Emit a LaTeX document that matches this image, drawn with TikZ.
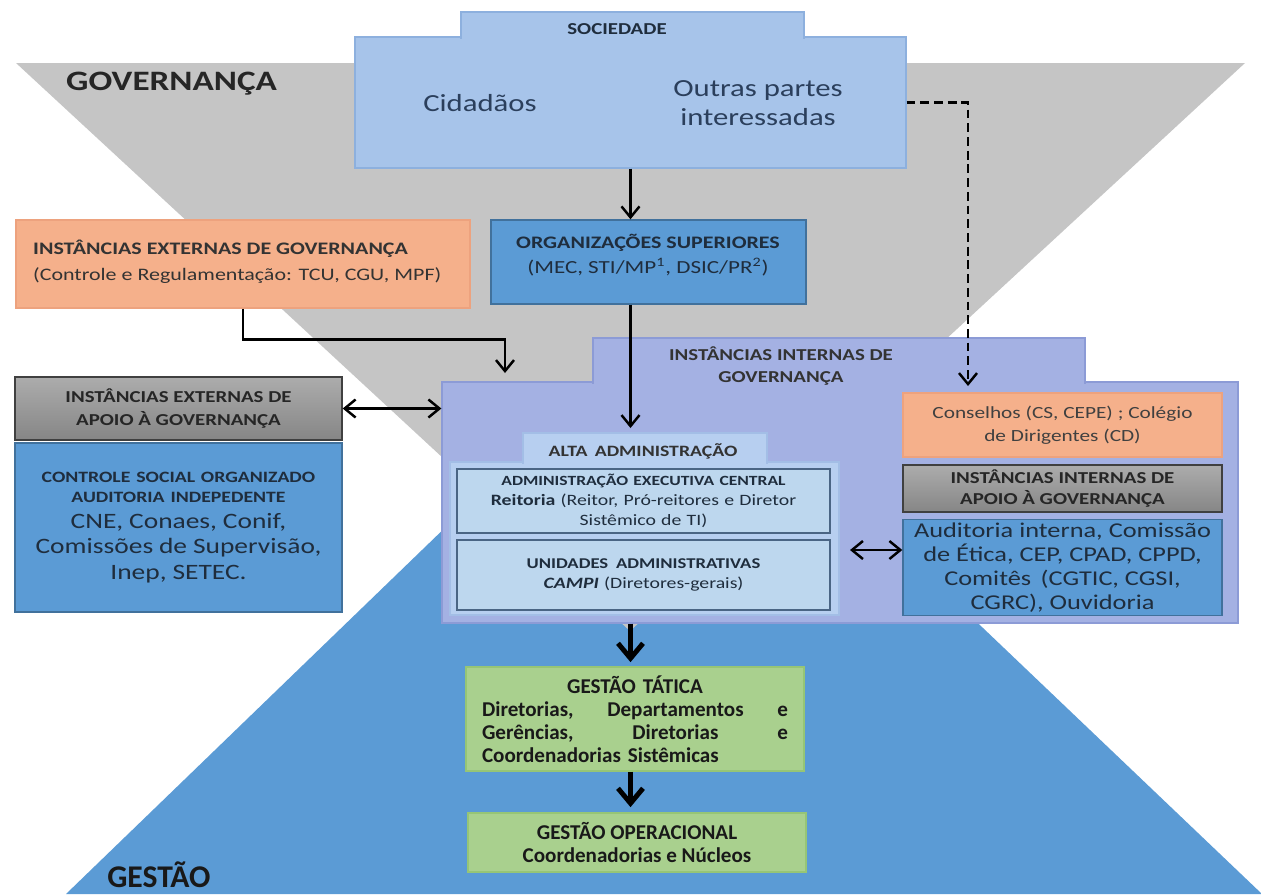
\documentclass[tikz,border=0pt]{standalone}
\usepackage{fontspec}
\setmainfont{Carlito}[FakeStretch=1.25]
\newfontfamily\narrowfont{Carlito}[FakeStretch=1.0]
\usetikzlibrary{arrows.meta,positioning}

\definecolor{govgray}{HTML}{C5C5C5}
\definecolor{gesblue}{HTML}{5B9BD5}
\definecolor{socblue}{HTML}{A7C4EA}
\definecolor{socline}{HTML}{8DB0DE}
\definecolor{soctext}{HTML}{2B3F5C}
\definecolor{midblue}{HTML}{5B9BD5}
\definecolor{midline}{HTML}{41719C}
\definecolor{extorange}{HTML}{F5B08B}
\definecolor{extline}{HTML}{EDA27E}
\definecolor{intlav}{HTML}{A4B1E3}
\definecolor{intline}{HTML}{8C9BD6}
\definecolor{altablue}{HTML}{B7CFF0}
\definecolor{altaline}{HTML}{A3BEE6}
\definecolor{innerblue}{HTML}{BDD7EE}
\definecolor{innerline}{HTML}{4A6584}
\definecolor{grayline}{HTML}{404040}
\definecolor{greenbox}{HTML}{A9D08E}
\definecolor{greenline}{HTML}{96C576}
\definecolor{darktext}{HTML}{1F2D3D}

\begin{document}
\begin{tikzpicture}[x=0.02cm,y=-0.02cm]
		\tikzstyle{box}=[rectangle, draw, line width=0.8pt, inner sep=2pt, align=center, text=darktext]
		\tikzstyle{graybox}=[box, draw=grayline, top color=gray!65, bottom color=gray!95, text=black!85]
		\tikzstyle{greenstep}=[box, draw=greenline, fill=greenbox, line width=1pt, text=black!90, font=\narrowfont\bfseries\fontsize{12}{13}\selectfont]
		\tikzstyle{connect}=[-{Straight Barb[length=2.2mm,width=3.6mm]}, line width=1.4pt]
		\tikzstyle{biconnect}=[{Straight Barb[length=2.2mm,width=3.6mm]}-{Straight Barb[length=2.2mm,width=3.6mm]}, line width=1.4pt]
		\tikzstyle{bigconnect}=[-{Straight Barb[length=3mm,width=5mm]}, line width=2.8pt]
		\tikzstyle{dconnect}=[connect, dash pattern=on 5pt off 2.8pt]
		
		\useasboundingbox (0,0) rectangle (1261,894);
		
		% the two wedges behind
		\fill[gesblue] (660,320) -- (1262,894) -- (66,894) -- cycle;
		\fill[govgray] (16,63) -- (1245,63) -- (630,631) -- cycle;
		
		\node[anchor=west, text=black!85, font=\bfseries\fontsize{16}{18}\selectfont] (govlabel) at (60,84) {GOVERNANÇA};
		\node[anchor=base west, inner sep=0pt, text=black!90, font=\narrowfont\bfseries\fontsize{18}{20}\selectfont] (geslabel) at (107,887) {GESTÃO};
		
		% sociedade
		\node[box, draw=socline, fill=socblue, minimum width=11.02cm, minimum height=2.62cm] (soc) at (630.5,102.5) {};
		\filldraw[fill=socblue, draw=socline, line width=0.8pt] (461,38.5) -- (461,12) -- (804,12) -- (804,38.5);
		\node[text=darktext, font=\bfseries\fontsize{9.5}{11}\selectfont] (soctitle) at (617,29) {SOCIEDADE};
		\node[text=soctext, font=\fontsize{14}{16}\selectfont] (cid) at (480,103) {Cidadãos};
		\node[text=soctext, align=center, font=\fontsize{14}{16.5}\selectfont] (outras) at (758,103) {Outras partes\\interessadas};
		
		% organizacoes superiores
		\node[box, draw=midline, fill=midblue, minimum width=6.3cm, minimum height=1.68cm] (org) at (648.5,262) {};
		\node[text=darktext, align=center, font=\fontsize{10.5}{14}\selectfont] (orgtext) at (648,255) {{\bfseries\fontsize{10}{14}\selectfont ORGANIZAÇÕES SUPERIORES}\\(MEC, STI/MP\textsuperscript{1}, DSIC/PR\textsuperscript{2})};
		
		% instancias externas de governanca
		\node[box, draw=extline, fill=extorange, minimum width=9.08cm, minimum height=1.76cm] (ext) at (243,264) {};
		\node[anchor=west, align=left, text=black!80, font=\fontsize{10}{15}\selectfont] (exttext) at (27,262) {{\bfseries INSTÂNCIAS EXTERNAS DE GOVERNANÇA}\\(Controle e Regulamentação: TCU, CGU, MPF)};
		
		% instancias internas de governanca
		\node[box, draw=intline, fill=intlav, minimum width=15.92cm, minimum height=4.82cm] (int) at (840,502.5) {};
		\filldraw[fill=intlav, draw=intline, line width=0.8pt] (593,383.5) -- (593,338) -- (1085,338) -- (1085,383.5);
		\node[align=center, text=black!80, font=\bfseries\fontsize{9.5}{13}\selectfont] (inttitle) at (781,366) {INSTÂNCIAS INTERNAS DE\\GOVERNANÇA};
		
		% alta administracao
		\node[box, draw=altaline, fill=altablue, minimum width=7.78cm, minimum height=3.06cm] (alta) at (644.5,538.5) {};
		\filldraw[fill=altablue, draw=altaline, line width=0.8pt] (523,463.5) -- (523,433) -- (767,433) -- (767,463.5);
		\node[text=black!80, font=\bfseries\fontsize{9}{11}\selectfont] (altatitle) at (643,451) {ALTA\, ADMINISTRAÇÃO};
		\node[box, draw=innerline, fill=innerblue, line width=1.2pt, minimum width=7.46cm, minimum height=1.28cm, text width=7.2cm, font=\fontsize{9}{11.5}\selectfont] (aec) at (643.5,501) {{\bfseries\fontsize{8}{11.5}\selectfont ADMINISTRAÇÃO EXECUTIVA CENTRAL}\\{\bfseries Reitoria} (Reitor, Pró-reitores e Diretor\\Sistêmico de TI)};
		\node[box, draw=innerline, fill=innerblue, line width=1.2pt, minimum width=7.46cm, minimum height=1.4cm, text width=7.2cm, font=\fontsize{9}{11.5}\selectfont] (uad) at (643.5,575) {{\bfseries\fontsize{8.5}{11.5}\selectfont UNIDADES\, ADMINISTRATIVAS}\\{\bfseries\itshape CAMPI} (Diretores-gerais)};
		
		% apoio externo
		\node[graybox, minimum width=6.54cm, minimum height=1.26cm, font=\bfseries\fontsize{9.5}{13}\selectfont] (extap) at (178.5,408.5) {INSTÂNCIAS EXTERNAS DE\\APOIO À GOVERNANÇA};
		\node[box, draw=midline, fill=midblue, minimum width=6.54cm, minimum height=3.38cm, text width=6.3cm] (ctrl) at (178.5,527.5) {{\bfseries\fontsize{9}{11.5}\selectfont CONTROLE SOCIAL ORGANIZADO\\AUDITORIA INDEPEDENTE\par}{\fontsize{12.5}{14.5}\selectfont CNE, Conaes, Conif,\\Comissões de Supervisão,\\Inep, SETEC.\par}};
		
		% lado direito
		\node[box, draw=extline, fill=extorange, minimum width=6.38cm, minimum height=1.28cm, text=black!75, font=\fontsize{9.7}{13}\selectfont] (cons) at (1062.5,425) {Conselhos (CS, CEPE) ; Colégio\\de Dirigentes (CD)};
		\node[graybox, minimum width=6.38cm, minimum height=0.94cm, font=\bfseries\fontsize{9.5}{12}\selectfont] (intap) at (1062.5,488.5) {INSTÂNCIAS INTERNAS DE\\APOIO À GOVERNANÇA};
		\node[box, draw=midline, fill=midblue, minimum width=6.38cm, minimum height=1.9cm, font=\fontsize{12}{13.6}\selectfont] (aud) at (1062.5,567.5) {Auditoria interna, Comissão\\de Ética, CEP, CPAD, CPPD,\\Comitês\, (CGTIC, CGSI,\\CGRC), Ouvidoria};
		
		% gestao
		\node[greenstep, minimum width=6.76cm, minimum height=2.08cm, text width=6.12cm] (tat) at (635,719) {GESTÃO TÁTICA\\\makebox[6.12cm][l]{Diretorias,\hfill Departamentos\hfill e}\\\makebox[6.12cm][l]{Gerências,\hfill Diretorias\hfill e}\\\makebox[6.12cm][l]{Coordenadorias Sistêmicas}};
		\node[greenstep, minimum width=6.76cm, minimum height=1.18cm] (oper) at (637,842.5) {GESTÃO OPERACIONAL\\Coordenadorias e Núcleos};
		
		\coordinate (extin) at (505,373);
		\coordinate (dashin) at (968,386);
		\coordinate (altaout) at (850,550);
		
		\path (soc.south) edge [connect] (soc.south |- org.north);
		\draw[connect] (soc.south |- org.south) -- ([yshift=0.1cm]soc.south |- alta.north |- 0,433);
		\draw[connect] (ext.south) -- ++(0,31) -| (extin);
		\draw[dconnect] (soc.east) -| (dashin);
		\draw[biconnect] (extap.east) -- (extap.east -| int.west);
		\draw[biconnect] (altaout) -- (altaout -| aud.west);
		\draw[bigconnect] (soc.south |- int.south) -- ([yshift=0.08cm]soc.south |- tat.north);
		\draw[bigconnect] (soc.south |- tat.south) -- ([yshift=0.1cm]soc.south |- oper.north);
		
	\end{tikzpicture}
\end{document}
